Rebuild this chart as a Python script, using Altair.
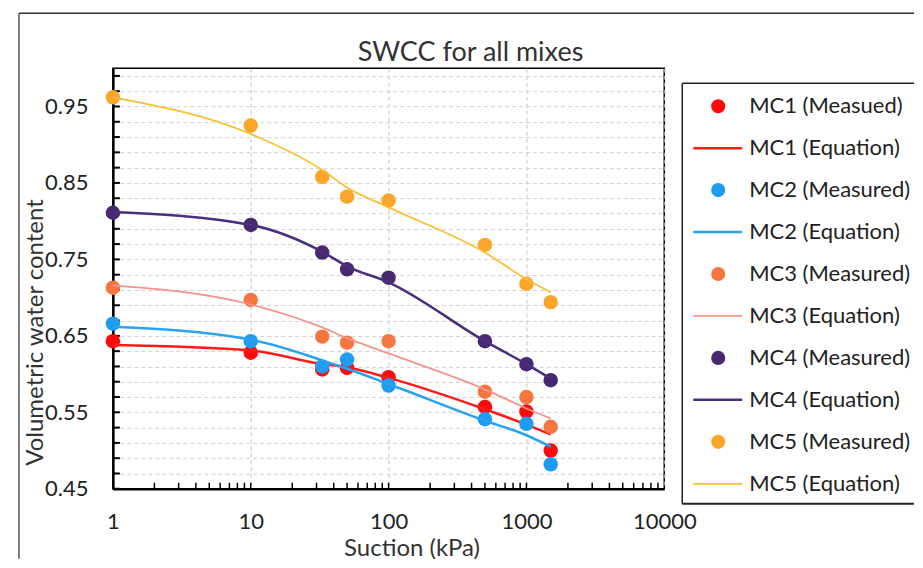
import altair as alt
import pandas as pd

FONT = "Lato"
W, H = 552, 421

# ---------------- data ----------------
chart_title = ["SWCC for all mixes"]
suction = [1, 10, 33, 50, 100, 500, 1000, 1500]

mc1_measured = [0.643, 0.628, 0.606, 0.608, 0.596, 0.557, 0.551, 0.500]
mc1_equation = [0.638, 0.631, 0.613, 0.609, 0.595, 0.554, 0.534, 0.521]
mc2_measured = [0.666, 0.643, 0.610, 0.619, 0.585, 0.541, 0.535, 0.482]
mc2_equation = [0.662, 0.645, 0.618, 0.607, 0.587, 0.539, 0.520, 0.505]
mc3_measured = [0.713, 0.697, 0.649, 0.641, 0.643, 0.577, 0.570, 0.531]
mc3_equation = [0.716, 0.691, 0.661, 0.647, 0.627, 0.580, 0.555, 0.542]
mc4_measured = [0.811, 0.795, 0.759, 0.737, 0.726, 0.643, 0.613, 0.592]
mc4_equation = [0.812, 0.795, 0.760, 0.741, 0.720, 0.643, 0.613, 0.594]
mc5_measured = [0.962, 0.925, 0.858, 0.832, 0.827, 0.769, 0.718, 0.694]
mc5_equation = [0.962, 0.914, 0.867, 0.844, 0.818, 0.759, 0.724, 0.707]

measured_labels = ["MC1 (Measued)", "MC2 (Measured)", "MC3 (Measured)", "MC4 (Measured)", "MC5 (Measured)"]
equation_labels = ["MC1 (Equation)", "MC2 (Equation)", "MC3 (Equation)", "MC4 (Equation)", "MC5 (Equation)"]
point_colors = ["#FF0A0A", "#1E9CF0", "#F77640", "#48286E", "#FBA62A"]
line_colors = ["#FF1A1A", "#2AA2F2", "#F4948C", "#4A2F7E", "#F8C032"]
line_widths = [2.5, 2.5, 1.8, 2.5, 1.8]

measured_values = [mc1_measured, mc2_measured, mc3_measured, mc4_measured, mc5_measured]
equation_values = [mc1_equation, mc2_equation, mc3_equation, mc4_equation, mc5_equation]

y_domain = [0.45, 1.0]
y_grid_values = [0.45, 0.47, 0.49, 0.51, 0.53, 0.55, 0.57, 0.59, 0.61, 0.63, 0.65, 0.67, 0.69,
                 0.71, 0.73, 0.75, 0.77, 0.79, 0.81, 0.83, 0.85, 0.87, 0.89, 0.91, 0.93, 0.95,
                 0.97, 0.99]
x_domain = [1, 10000]
x_major = [1, 10, 100, 1000, 10000]
x_minor = [2, 3, 4, 5, 6, 7, 8, 9, 10, 20, 30, 40, 50, 60, 70, 80, 90, 100,
           200, 300, 400, 500, 600, 700, 800, 900, 1000,
           2000, 3000, 4000, 5000, 6000, 7000, 8000, 9000]

# ---------------- encodings ----------------
x_enc = alt.X(
    "suction:Q",
    scale=alt.Scale(type="log", domain=x_domain),
    axis=alt.Axis(
        values=x_major, format="d", title="Suction (kPa)",
        grid=True, gridDash=[4, 3], gridColor="#c4c4c4", gridWidth=1,
        ticks=False, tickSize=0, labelPadding=33, labelBaseline="middle",
        labelFlush=False, labelOverlap=False,
        labelFont=FONT, labelFontSize=22, labelColor="#222",
        titleFont=FONT, titleFontSize=24, titleFontWeight="normal", titleColor="#333",
        titleX=299, titleY=60, titleAlign="center", titleBaseline="middle",
        domainColor="#000", domainWidth=2.5,
    ),
)
y_enc = alt.Y(
    "vwc:Q",
    scale=alt.Scale(domain=y_domain, nice=False, zero=False),
    axis=alt.Axis(
        values=y_grid_values,
        labelExpr="(round(datum.value*100) - 45) % 10 == 0 ? format(datum.value, '.2f') : ''",
        title="Volumetric water content",
        grid=True, gridDash=[4, 3], gridColor="#d4d0d4", gridWidth=1,
        ticks=False, tickSize=0, labelPadding=25,
        labelFlush=False, labelOverlap=False,
        labelFont=FONT, labelFontSize=22, labelColor="#222",
        titleFont=FONT, titleFontSize=24, titleFontWeight="normal", titleColor="#333",
        titleX=-77, titleY=264, titleAngle=270, titleAlign="center", titleBaseline="middle",
        domainColor="#000", domainWidth=2.5,
    ),
)

one_row = pd.DataFrame({"k": [0]})

# inward ticks
y_ticks = alt.Chart(pd.DataFrame({"vwc": y_grid_values})).mark_rule(color="#000", strokeWidth=2).encode(
    x=alt.value(0), x2=alt.value(7), y=y_enc
)
x_ticks = alt.Chart(pd.DataFrame({"suction": x_minor})).mark_rule(color="#000", strokeWidth=1.5).encode(
    x=x_enc, y=alt.value(H), y2=alt.value(H - 6)
)

# outer figure frame
frame_left = alt.Chart(one_row).mark_rule(color="#555", strokeWidth=1.5).encode(
    x=alt.value(-94), y=alt.value(-55), y2=alt.value(491)
)
frame_top = alt.Chart(one_row).mark_rule(color="#333", strokeWidth=1.5).encode(
    x=alt.value(-94), x2=alt.value(802), y=alt.value(-55)
)

# chart title as text
title_text = alt.Chart(pd.DataFrame({"t": chart_title})).mark_text(
    font=FONT, fontSize=27, color="#333", align="center", baseline="middle"
).encode(x=alt.value(358), y=alt.value(-15), text="t:N")

series_layers = []
for i in range(5):
    dm = pd.DataFrame({"suction": suction, "vwc": measured_values[i]})
    de = pd.DataFrame({"suction": suction, "vwc": equation_values[i]})
    series_layers.append(
        alt.Chart(dm).mark_circle(size=210, opacity=1, color=point_colors[i]).encode(x=x_enc, y=y_enc)
    )
    series_layers.append(
        alt.Chart(de).mark_line(color=line_colors[i], strokeWidth=line_widths[i], interpolate="monotone").encode(
            x=x_enc, y=y_enc
        )
    )

main = alt.layer(frame_left, frame_top, title_text, y_ticks, x_ticks, *series_layers)

# ---------------- legend ----------------
legend_labels = []
legend_colors = []
legend_kind = []
legend_width = []
for i in range(5):
    legend_labels += [measured_labels[i], equation_labels[i]]
    legend_colors += [point_colors[i], line_colors[i]]
    legend_kind += ["measured", "equation"]
    legend_width += [0, line_widths[i]]
leg_df = pd.DataFrame({"label": legend_labels, "color": legend_colors, "kind": legend_kind, "sw": legend_width})

leg_y = alt.Y("label:N", scale=alt.Scale(type="point", domain=legend_labels, range=[38, 416], padding=0), axis=None)

leg_circles = alt.Chart(leg_df[leg_df.kind == "measured"]).mark_circle(size=200, opacity=1).encode(
    x=alt.value(606), y=leg_y, color=alt.Color("color:N", scale=None)
)
leg_lines = alt.Chart(leg_df[leg_df.kind == "equation"]).mark_rule().encode(
    x=alt.value(581), x2=alt.value(630), y=leg_y, color=alt.Color("color:N", scale=None),
    strokeWidth=alt.StrokeWidth("sw:Q", scale=None),
)
leg_text = alt.Chart(leg_df).mark_text(align="left", baseline="middle", font=FONT, fontSize=22, color="#222").encode(
    x=alt.value(637), y=leg_y, text="label:N"
)
box_top = alt.Chart(one_row).mark_rule(color="#222", strokeWidth=1.5).encode(
    x=alt.value(570), x2=alt.value(802), y=alt.value(15)
)
box_bottom = alt.Chart(one_row).mark_rule(color="#222", strokeWidth=2).encode(
    x=alt.value(570), x2=alt.value(802), y=alt.value(436)
)
box_left = alt.Chart(one_row).mark_rule(color="#222", strokeWidth=1.5).encode(
    x=alt.value(570), y=alt.value(15), y2=alt.value(436)
)

legend = alt.layer(box_top, box_bottom, box_left, leg_lines, leg_circles, leg_text)

chart = (
    alt.layer(main, legend)
    .resolve_scale(y="independent")
    .properties(
        width=W,
        height=H,
        padding={"left": 10, "top": 4, "right": 0, "bottom": 0},
    )
    .configure_view(stroke="#000", strokeWidth=1.5)
)

chart.save("out.html", embed_options={"renderer": "svg", "actions": False})
